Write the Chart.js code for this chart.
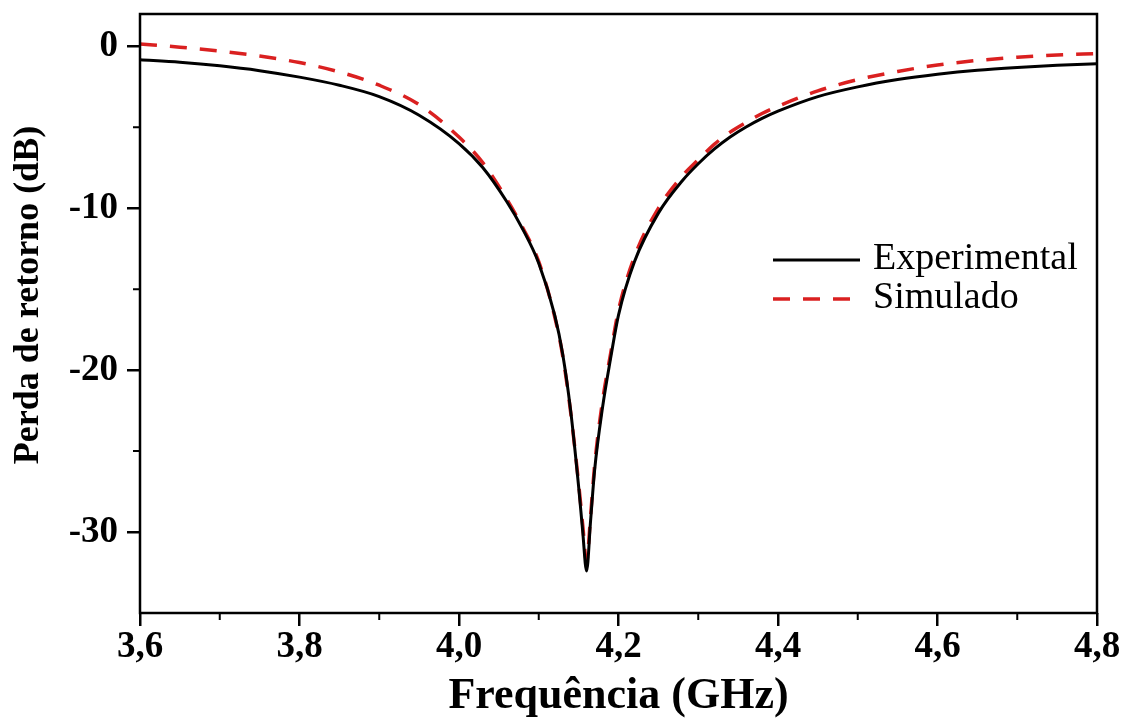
<!DOCTYPE html>
<html>
<head>
<meta charset="utf-8">
<script src="https://cdn.jsdelivr.net/npm/chart.js@4.4.1/dist/chart.umd.min.js"></script>
<style>
  html, body { margin: 0; padding: 0; background: #fff; }
</style>
</head>
<body>
<canvas id="miGrafico" width="1129" height="720"></canvas>
<script>
// frecuencia (GHz)
let frequencias = [3.60, 3.65, 3.70, 3.75, 3.80, 3.85, 3.90, 3.95, 4.00, 4.03, 4.06, 4.08,
                   4.10, 4.12, 4.13, 4.14, 4.15, 4.155, 4.16, 4.165, 4.17, 4.18, 4.19, 4.20,
                   4.22, 4.25, 4.28, 4.30, 4.32, 4.34, 4.36, 4.38, 4.40, 4.45, 4.50, 4.55,
                   4.60, 4.65, 4.70, 4.75, 4.80];
// perda de retorno medida (dB)
let experimental = [-0.83, -0.98, -1.20, -1.50, -1.90, -2.40, -3.10, -4.25, -6.00, -7.50, -9.60, -11.30,
                    -13.40, -16.60, -19.00, -22.50, -27.20, -29.90, -32.40, -29.30, -26.20, -22.30, -19.30, -16.60,
                    -13.30, -10.30, -8.30, -7.25, -6.35, -5.60, -4.98, -4.45, -4.00, -3.10, -2.50, -2.05,
                    -1.72, -1.47, -1.30, -1.17, -1.07];
// perda de retorno simulada (dB)
let simulado = [0.15, -0.05, -0.29, -0.60, -1.00, -1.58, -2.40, -3.60, -5.60, -7.20, -9.45, -11.20,
                -13.30, -16.70, -19.10, -22.60, -27.00, -29.50, -31.80, -29.00, -25.90, -21.90, -19.00, -16.30,
                -13.00, -10.00, -8.00, -7.00, -6.05, -5.30, -4.70, -4.15, -3.70, -2.75, -2.05, -1.55,
                -1.15, -0.87, -0.67, -0.53, -0.44];

let ticksX = [3.6, 3.8, 4.0, 4.2, 4.4, 4.6, 4.8];
let ticksY = [0, -10, -20, -30];
let menoresX = [3.7, 3.9, 4.1, 4.3, 4.5, 4.7];
let menoresY = [-5, -15, -25];

let fonteSerif = "'Liberation Serif', 'Times New Roman', serif";

let pontos = (valores) => frequencias.map((f, i) => ({ x: f, y: valores[i] }));

// moldura do grafico, ticks menores, titulo do eixo y e legenda dentro da area
let molduraPlugin = {
    id: 'moldura',
    afterDraw(chart) {
        let ctx = chart.ctx;
        let a = chart.chartArea;
        let sx = chart.scales.x;
        let sy = chart.scales.y;
        ctx.save();
        ctx.strokeStyle = '#000';
        ctx.lineWidth = 2.5;
        ctx.strokeRect(a.left, a.top, a.right - a.left, a.bottom - a.top);

        ctx.lineWidth = 2;
        ctx.beginPath();
        menoresX.forEach((v) => {
            let px = sx.getPixelForValue(v);
            ctx.moveTo(px, a.bottom);
            ctx.lineTo(px, a.bottom + 7);
        });
        menoresY.forEach((v) => {
            let py = sy.getPixelForValue(v);
            ctx.moveTo(a.left, py);
            ctx.lineTo(a.left - 7, py);
        });
        ctx.stroke();

        // titulo do eixo y
        ctx.save();
        ctx.translate(29, 295);
        ctx.rotate(-Math.PI / 2);
        ctx.fillStyle = '#000';
        ctx.font = 'bold 36px ' + fonteSerif;
        ctx.textAlign = 'center';
        ctx.textBaseline = 'middle';
        ctx.fillText('Perda de retorno (dB)', 0, 0);
        ctx.restore();

        // legenda
        let x0 = 773, x1 = 860, y0 = 260, dy = 39;
        chart.data.datasets.forEach((ds, i) => {
            let y = y0 + i * dy;
            ctx.strokeStyle = ds.borderColor;
            ctx.lineWidth = ds.borderWidth;
            ctx.setLineDash(ds.borderDash || []);
            ctx.beginPath();
            ctx.moveTo(x0, y);
            ctx.lineTo(x1, y);
            ctx.stroke();
            ctx.setLineDash([]);
            ctx.fillStyle = '#000';
            ctx.font = '38px ' + fonteSerif;
            ctx.textBaseline = 'middle';
            ctx.textAlign = 'left';
            ctx.fillText(ds.label, x1 + 13, y - 1);
        });
        ctx.restore();
    }
};

let ctx = document.getElementById('miGrafico').getContext('2d');
let myChart = new Chart(ctx, {
    type: 'line',
    data: {
        datasets: [{
            label: 'Experimental',
            data: pontos(experimental),
            borderColor: '#000000',
            borderWidth: 3,
            pointRadius: 0,
            cubicInterpolationMode: 'monotone'
        }, {
            label: 'Simulado',
            data: pontos(simulado),
            borderColor: '#da2020',
            borderWidth: 3.5,
            borderDash: [17, 13],
            pointRadius: 0,
            cubicInterpolationMode: 'monotone'
        }]
    },
    options: {
        responsive: false,
        animation: false,
        layout: { padding: { top: 14, right: 32, left: 0, bottom: 0 } },
        plugins: {
            legend: { display: false },
            tooltip: { enabled: false }
        },
        scales: {
            x: {
                type: 'linear',
                min: 3.6,
                max: 4.8,
                afterBuildTicks: (s) => { s.ticks = ticksX.map((v) => ({ value: v })); },
                afterFit: (s) => { s.height = 107; s.paddingLeft = 0; s.paddingRight = 0; },
                grid: { drawOnChartArea: false, drawTicks: true, tickLength: 13, color: '#000', lineWidth: 2.5 },
                border: { display: false },
                ticks: {
                    color: '#000',
                    padding: -1,
                    maxRotation: 0,
                    font: { family: fonteSerif, size: 37, weight: 'bold' },
                    callback: (v) => v.toFixed(1).replace('.', ',')
                },
                title: {
                    display: true,
                    text: 'Frequência (GHz)',
                    color: '#000',
                    font: { family: fonteSerif, size: 44, weight: 'bold', lineHeight: 1.0 },
                    padding: { top: 0, bottom: 1 }
                }
            },
            y: {
                min: -35,
                max: 2,
                afterBuildTicks: (s) => { s.ticks = ticksY.map((v) => ({ value: v })); },
                afterFit: (s) => { s.width = 140; s.paddingTop = 0; s.paddingBottom = 0; },
                grid: { drawOnChartArea: false, drawTicks: true, tickLength: 13, color: '#000', lineWidth: 2.5 },
                border: { display: false },
                ticks: {
                    color: '#000',
                    padding: 9,
                    font: { family: fonteSerif, size: 37, weight: 'bold' },
                    callback: (v) => String(v)
                }
            }
        }
    },
    plugins: [molduraPlugin]
});
</script>
</body>
</html>
